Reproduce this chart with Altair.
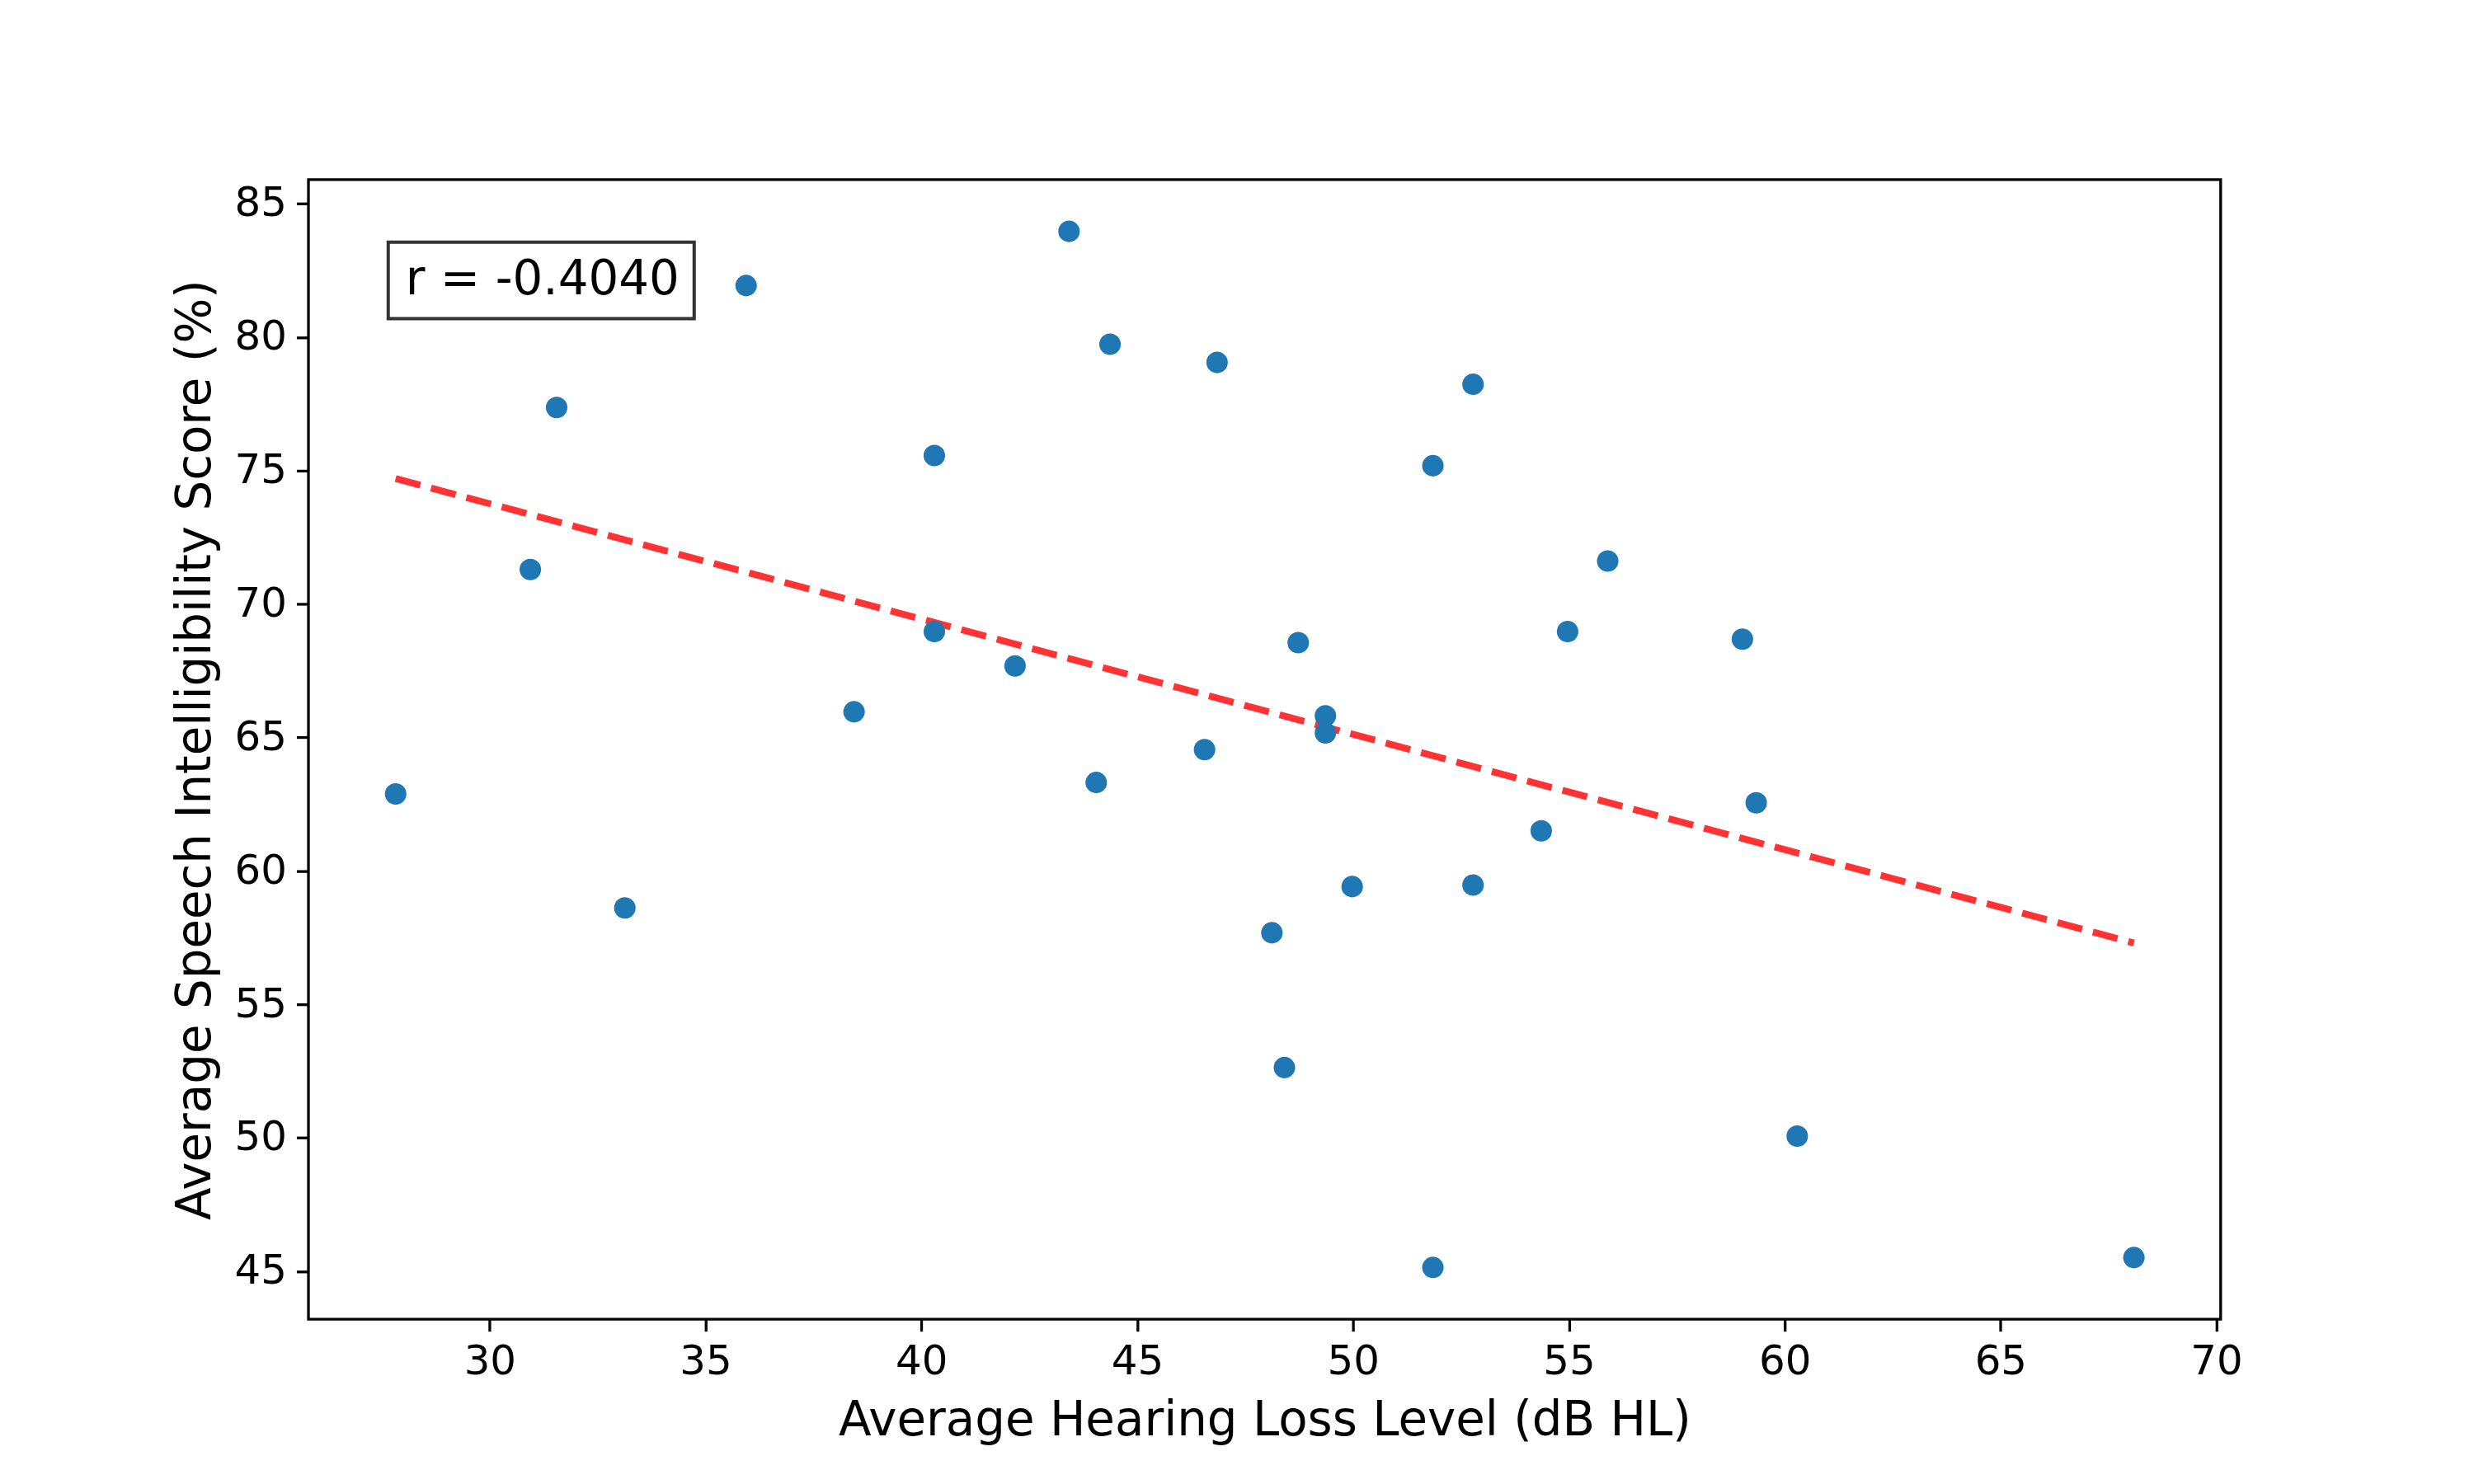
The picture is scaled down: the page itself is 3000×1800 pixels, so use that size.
import altair as alt
import pandas as pd

hearing_loss = [27.82, 30.94, 31.55, 33.13, 35.94, 38.44, 40.30, 40.30, 42.17, 43.42,
                44.05, 44.37, 46.56, 46.85, 48.12, 48.41, 48.73, 49.36, 49.36, 49.98,
                51.85, 51.85, 52.78, 52.78, 54.36, 54.97, 55.90, 59.02, 59.34, 60.29, 68.09]
speech_score = [62.88, 71.29, 77.36, 58.61, 81.93, 65.96, 75.56, 68.97, 67.68, 83.96,
                63.31, 79.73, 64.54, 79.05, 57.68, 52.63, 68.55, 65.81, 65.17, 59.41,
                75.18, 45.14, 78.23, 59.47, 61.50, 68.97, 71.61, 68.68, 62.55, 50.06, 45.51]
r_label = ["r = -0.4040"]

df = pd.DataFrame({"hl": hearing_loss, "score": speech_score})

W, H = 2325, 1386
xscale = alt.Scale(domain=[25.8, 70.1], nice=False, zero=False)
yscale = alt.Scale(domain=[43.2, 85.9], nice=False, zero=False)

base = alt.Chart(df)

points = base.mark_circle(size=683, color="#1f77b4", opacity=1).encode(
    x=alt.X("hl:Q", scale=xscale,
            axis=alt.Axis(title="Average Hearing Loss Level (dB HL)",
                          values=[30, 35, 40, 45, 50, 55, 60, 65, 70])),
    y=alt.Y("score:Q", scale=yscale,
            axis=alt.Axis(title="Average Speech Intelligibility Score (%)",
                          values=[45, 50, 55, 60, 65, 70, 75, 80, 85])),
)

trend = base.transform_regression("hl", "score").mark_line(
    color="#ff0000", opacity=0.8, strokeWidth=8.3, strokeDash=[31, 13.5]
).encode(x=alt.X("hl:Q", scale=xscale), y=alt.Y("score:Q", scale=yscale))

box = alt.Chart(pd.DataFrame({"t": r_label})).mark_rect(
    fill="white", stroke="#333333", strokeWidth=4
).encode(x=alt.value(97), x2=alt.value(469), y=alt.value(76), y2=alt.value(169))

label = alt.Chart(pd.DataFrame({"t": r_label})).mark_text(
    align="left", baseline="alphabetic", fontSize=58, font="DejaVu Sans", color="black"
).encode(x=alt.value(118), y=alt.value(140), text="t:N")

chart = alt.layer(trend, points, box, label).properties(
    width=W, height=H,
    autosize=alt.AutoSizeParams(type="none"),
    padding={"left": 367, "top": 208, "right": 300, "bottom": 206},
).configure_view(
    stroke="black", strokeWidth=3.3
).configure_axis(
    grid=False, domain=False,
    labelFont="DejaVu Sans", titleFont="DejaVu Sans",
    labelFontSize=50, titleFontSize=58, titleFontWeight="normal",
    labelColor="black", titleColor="black",
    tickColor="black", tickSize=14.6, tickWidth=3.3,
    labelPadding=12, labelFlush=False, labelOverlap=False,
).configure_axisX(
    titlePadding=18
).configure_axisY(
    titlePadding=18
)

chart.save("out.html", embed_options={"renderer": "svg", "actions": False})
